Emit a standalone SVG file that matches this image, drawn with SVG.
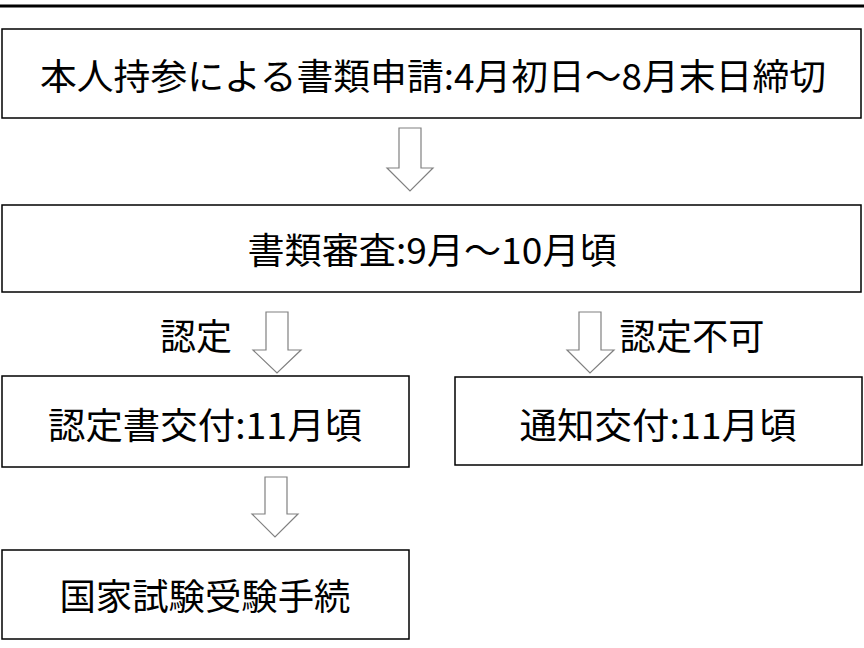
<svg xmlns="http://www.w3.org/2000/svg" width="864" height="648" viewBox="0 0 864 648">
<style>
.box{fill:#fff;stroke:#000;stroke-width:1.5}
.arr{fill:#fff;stroke:#808080;stroke-width:1.2;stroke-linejoin:miter}
text{font-family:"Noto Sans CJK JP","Noto Sans CJK SC",sans-serif;font-size:36px;fill:#000;text-anchor:middle}
</style>
<rect width="864" height="648" fill="#fff"/>
<line x1="0" y1="6" x2="864" y2="6" stroke="#000" stroke-width="3"/>
<g id="n1"><rect class="box" x="2" y="29" width="859" height="89"/><text x="433" y="90" textLength="786" lengthAdjust="spacingAndGlyphs">本人持参による書類申請:4月初日～8月末日締切</text></g>
<g id="n2"><rect class="box" x="2" y="205" width="859" height="87"/><text x="432" y="264" textLength="369" lengthAdjust="spacingAndGlyphs">書類審査:9月～10月頃</text></g>
<g id="n3"><rect class="box" x="2" y="376" width="407" height="91"/><text x="205" y="439" textLength="314" lengthAdjust="spacingAndGlyphs">認定書交付:11月頃</text></g>
<g id="n4"><rect class="box" x="455" y="377" width="407" height="88"/><text x="658" y="439" textLength="277" lengthAdjust="spacingAndGlyphs">通知交付:11月頃</text></g>
<g id="n5"><rect class="box" x="2" y="550" width="407" height="89"/><text x="205" y="610" textLength="291" lengthAdjust="spacingAndGlyphs">国家試験受験手続</text></g>
<g id="connectors">
<path class="arr" d="M399,128 H421 V168 H433 L410,191 L387,168 H399 Z"/>
<path class="arr" d="M266,312 H288 V350 H301 L277,373 L253,350 H266 Z"/>
<path class="arr" d="M579,312 H601 V350 H614 L590,373 L567,350 H579 Z"/>
<path class="arr" d="M265,477 H287 V514 H298 L275,537 L252,514 H265 Z"/>
<text x="196" y="350" textLength="72" lengthAdjust="spacingAndGlyphs">認定</text>
<text x="692" y="350" textLength="145" lengthAdjust="spacingAndGlyphs">認定不可</text>
</g>
</svg>
